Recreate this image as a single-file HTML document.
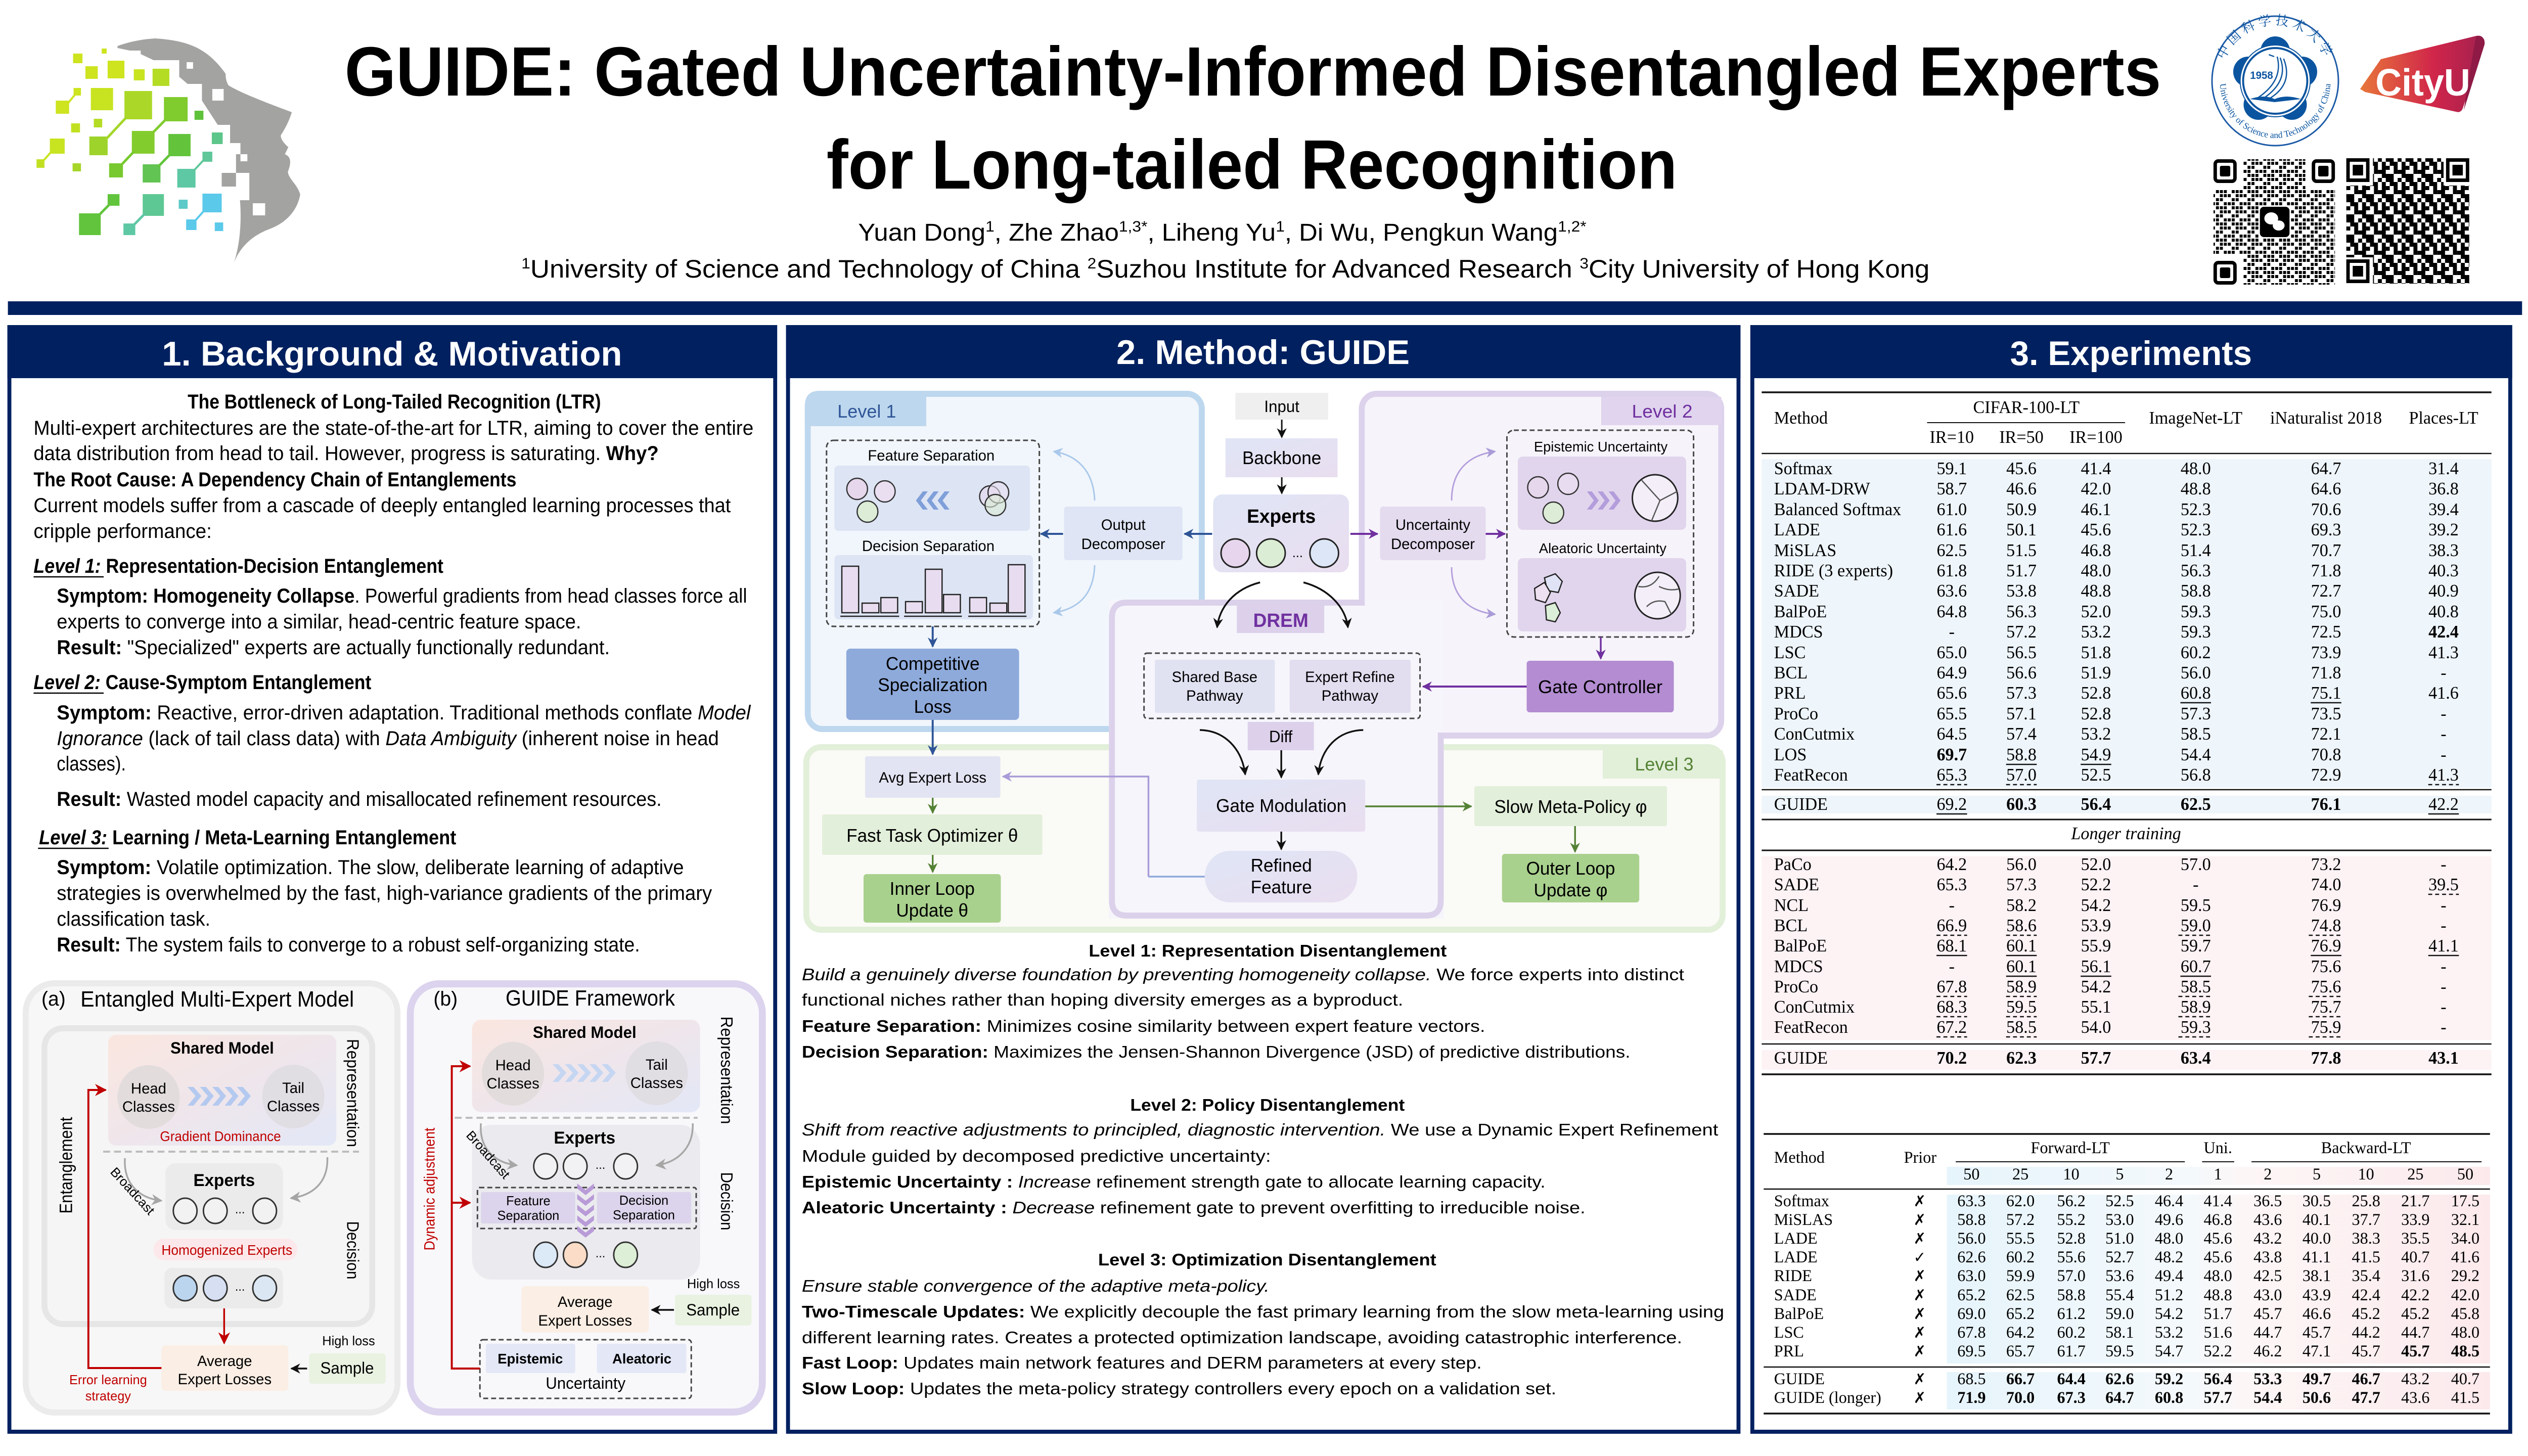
<!DOCTYPE html>
<html><head><meta charset="utf-8">
<style>
html,body{margin:0;padding:0;width:100%;height:100%;overflow:hidden;background:#fff;}
svg{display:block;width:100vw;height:100vh;}
text{font-family:"Liberation Sans","Noto Sans CJK SC",sans-serif;fill:#000;}
.sf{font-family:"Liberation Serif",serif;}
.mk{font-family:"DejaVu Sans",sans-serif;}
</style></head><body>
<svg xmlns="http://www.w3.org/2000/svg" viewBox="0 0 5120 2880" preserveAspectRatio="none">
<defs>
<marker id="aK" viewBox="0 0 10 10" refX="9" refY="5" markerWidth="20" markerHeight="20" markerUnits="userSpaceOnUse" orient="auto"><path d="M0,0 L10,5 L0,10 L3,5 z" fill="#111"/></marker>
<marker id="aR" viewBox="0 0 10 10" refX="9" refY="5" markerWidth="24" markerHeight="24" markerUnits="userSpaceOnUse" orient="auto"><path d="M0,0 L10,5 L0,10 L3,5 z" fill="#c00000"/></marker>
<marker id="aG" viewBox="0 0 10 10" refX="9" refY="5" markerWidth="22" markerHeight="22" markerUnits="userSpaceOnUse" orient="auto"><path d="M0,0 L10,5 L0,10 L3,5 z" fill="#a6a6a6"/></marker>
<marker id="aB" viewBox="0 0 10 10" refX="9" refY="5" markerWidth="20" markerHeight="20" markerUnits="userSpaceOnUse" orient="auto"><path d="M0,0 L10,5 L0,10 L3,5 z" fill="#2f5597"/></marker>
<marker id="aP" viewBox="0 0 10 10" refX="9" refY="5" markerWidth="20" markerHeight="20" markerUnits="userSpaceOnUse" orient="auto"><path d="M0,0 L10,5 L0,10 L3,5 z" fill="#7030a0"/></marker>
<marker id="aLP" viewBox="0 0 10 10" refX="9" refY="5" markerWidth="20" markerHeight="20" markerUnits="userSpaceOnUse" orient="auto"><path d="M0,0 L10,5 L0,10 L3,5 z" fill="#a99bd8"/></marker>
<marker id="aLB" viewBox="0 0 10 10" refX="9" refY="5" markerWidth="20" markerHeight="20" markerUnits="userSpaceOnUse" orient="auto"><path d="M0,0 L10,5 L0,10 L3,5 z" fill="#a9c8ea"/></marker>
<marker id="aGr" viewBox="0 0 10 10" refX="9" refY="5" markerWidth="20" markerHeight="20" markerUnits="userSpaceOnUse" orient="auto"><path d="M0,0 L10,5 L0,10 L3,5 z" fill="#548235"/></marker>
<linearGradient id="gSM" x1="0" y1="0" x2="1" y2="1"><stop offset="0" stop-color="#fbe6df"/><stop offset="1" stop-color="#e3e7f7"/></linearGradient>
<linearGradient id="gEx" x1="0" y1="0" x2="1" y2="1"><stop offset="0" stop-color="#dfe5f5"/><stop offset="1" stop-color="#e9def0"/></linearGradient>
<linearGradient id="gCity" x1="0" y1="0" x2="1" y2="0"><stop offset="0" stop-color="#e8763a"/><stop offset="0.6" stop-color="#d0254a"/><stop offset="1" stop-color="#a3214f"/></linearGradient>
<linearGradient id="gT2" gradientUnits="userSpaceOnUse" x1="3943" y1="0" x2="5043" y2="0"><stop offset="0" stop-color="#e6f4fb"/><stop offset="0.45" stop-color="#f4f9fc"/><stop offset="0.55" stop-color="#fdf6f6"/><stop offset="1" stop-color="#fce9ec"/></linearGradient>
<pattern id="qrp1" width="32" height="32" patternUnits="userSpaceOnUse">
<rect x="0" y="0" width="6" height="6" fill="#000"/><rect x="16" y="0" width="6" height="6" fill="#000"/><rect x="24" y="0" width="6" height="6" fill="#000"/>
<rect x="8" y="8" width="6" height="6" fill="#000"/><rect x="16" y="8" width="6" height="6" fill="#000"/>
<rect x="0" y="16" width="6" height="6" fill="#000"/><rect x="24" y="16" width="6" height="6" fill="#000"/><rect x="8" y="16" width="6" height="6" fill="#000"/>
<rect x="8" y="24" width="6" height="6" fill="#000"/><rect x="16" y="24" width="6" height="6" fill="#000"/><rect x="24" y="24" width="6" height="6" fill="#000"/>
</pattern>
<pattern id="qrp2" width="40" height="40" patternUnits="userSpaceOnUse">
<rect x="0" y="0" width="16" height="8" fill="#000"/><rect x="24" y="0" width="8" height="16" fill="#000"/>
<rect x="8" y="8" width="8" height="16" fill="#000"/><rect x="32" y="8" width="8" height="8" fill="#000"/>
<rect x="16" y="16" width="16" height="8" fill="#000"/><rect x="0" y="24" width="8" height="16" fill="#000"/>
<rect x="24" y="24" width="16" height="8" fill="#000"/><rect x="16" y="32" width="8" height="8" fill="#000"/><rect x="32" y="32" width="8" height="8" fill="#000"/>
</pattern>
</defs>

<!-- ================= HEADER ================= -->
<path d="M238 95 L263 100 L285 100 L285 107 L311 119 L363 119 L363 152 L380 166 L409 166 L409 199 L441 247 L466 247 L466 283 L487 283 L487 305 L478 305 L478 342 L505 342 L505 396 L486 396 C490 440 485 490 473 521 C490 480 520 462 551 451 C585 437 603 412 608 385 C603 365 585 355 583 340 C590 322 590 310 577 305 L584 291 C575 284 567 273 569 267 C579 252 586 238 591 222 C545 205 490 185 463 169 C457 160 457 150 457 146 C420 95 380 80 314 76 C280 78 255 85 238 91 Z" fill="#a3a3a1"/>
<rect x="449" y="342" width="29" height="27" fill="#a3a3a1"/>
<rect x="378" y="123" width="13" height="13" fill="#fff"/><rect x="430" y="176" width="23" height="23" fill="#fff"/><rect x="487" y="305" width="14" height="14" fill="#fff"/><rect x="512" y="402" width="25" height="24" fill="#fff"/>
<g>
<rect x="148" y="106" width="19" height="19" fill="#cde41f"/><rect x="206" y="96" width="10" height="10" fill="#cde41f"/>
<rect x="173" y="131" width="25" height="25" fill="#cde41f"/><rect x="218" y="120" width="34" height="35" fill="#cde41f"/>
<rect x="271" y="137" width="22" height="22" fill="#c8e320"/><rect x="309" y="136" width="34" height="34" fill="#b5dc25"/>
<rect x="149" y="174" width="15" height="15" fill="#cde41f"/><rect x="113" y="199" width="27" height="26" fill="#cde41f"/><path d="M152 187 L137 205" stroke="#cde41f" stroke-width="4"/>
<rect x="184" y="174" width="45" height="44" fill="#c8e320"/>
<rect x="252" y="180" width="56" height="56" fill="#abd828"/><rect x="181" y="270" width="37" height="37" fill="#9dd32a"/><path d="M256 232 L214 276" stroke="#a4d628" stroke-width="5"/>
<rect x="332" y="192" width="48" height="48" fill="#80cb2e"/><rect x="267" y="259" width="46" height="45" fill="#83cc2e"/><path d="M336 236 L308 264" stroke="#80cb2e" stroke-width="5"/>
<rect x="394" y="219" width="18" height="18" fill="#5ec23a"/>
<rect x="144" y="244" width="18" height="18" fill="#c2e022"/><rect x="190" y="235" width="17" height="17" fill="#b5dc25"/>
<rect x="101" y="274" width="30" height="30" fill="#c8e320"/><rect x="74" y="315" width="16" height="17" fill="#c2e022"/><path d="M104 300 L86 320" stroke="#c8e320" stroke-width="4"/>
<rect x="147" y="323" width="17" height="16" fill="#a5d628"/>
<rect x="221" y="323" width="28" height="28" fill="#78c92f"/><path d="M271 300 L244 328" stroke="#78c92f" stroke-width="5"/>
<rect x="341" y="265" width="45" height="44" fill="#63c43c"/><rect x="289" y="325" width="36" height="36" fill="#62c453"/><path d="M345 305 L320 330" stroke="#63c43c" stroke-width="5"/>
<rect x="429" y="262" width="22" height="23" fill="#5dc68a"/>
<rect x="410" y="300" width="20" height="20" fill="#5fc79a"/><rect x="359" y="334" width="37" height="37" fill="#5ec8a5"/><path d="M413 316 L392 338" stroke="#5fc79a" stroke-width="4"/>
<rect x="218" y="384" width="24" height="23" fill="#62c43c"/><rect x="160" y="422" width="44" height="43" fill="#62c43c"/><path d="M222 404 L200 426" stroke="#62c43c" stroke-width="5"/>
<rect x="289" y="384" width="43" height="43" fill="#5ec894"/><rect x="250" y="442" width="24" height="23" fill="#5ec8a5"/><path d="M293 423 L270 446" stroke="#5ec8a5" stroke-width="5"/>
<rect x="362" y="395" width="18" height="18" fill="#5ccac8"/>
<rect x="410" y="383" width="39" height="37" fill="#5bc9ea"/><rect x="377" y="434" width="21" height="21" fill="#5bc9ea"/><path d="M414 416 L394 438" stroke="#5bc9ea" stroke-width="4"/>
<rect x="435" y="440" width="17" height="17" fill="#5bc9ea"/>
</g>

<text x="698" y="189" font-size="138" font-weight="bold" textLength="3679" lengthAdjust="spacingAndGlyphs">GUIDE: Gated Uncertainty-Informed Disentangled Experts</text>
<text x="1674" y="373" font-size="138" font-weight="bold" textLength="1723" lengthAdjust="spacingAndGlyphs">for Long-tailed Recognition</text>
<text x="1738" y="476" font-size="48" textLength="1475" lengthAdjust="spacingAndGlyphs">Yuan Dong<tspan font-size="30" dy="-18">1</tspan><tspan dy="18">, Zhe Zhao</tspan><tspan font-size="30" dy="-18">1,3*</tspan><tspan dy="18">, Liheng Yu</tspan><tspan font-size="30" dy="-18">1</tspan><tspan dy="18">, Di Wu, Pengkun Wang</tspan><tspan font-size="30" dy="-18">1,2*</tspan></text>
<text x="1056" y="549" font-size="50" textLength="2852" lengthAdjust="spacingAndGlyphs"><tspan font-size="30" dy="-18">1</tspan><tspan dy="18">University of Science and Technology of China  </tspan><tspan font-size="30" dy="-18">2</tspan><tspan dy="18">Suzhou Institute for Advanced Research  </tspan><tspan font-size="30" dy="-18">3</tspan><tspan dy="18">City University of Hong Kong</tspan></text>

<!-- USTC logo -->
<circle cx="4608" cy="160" r="128" fill="#fff" stroke="#1b5aa6" stroke-width="3"/>
<g fill="#0b55a0">
<circle cx="4608" cy="160" r="72"/>
<circle cx="4608" cy="102" r="30"/><circle cx="4663" cy="142" r="30"/><circle cx="4642" cy="207" r="30"/><circle cx="4574" cy="207" r="30"/><circle cx="4553" cy="142" r="30"/>
</g>
<circle cx="4608" cy="160" r="70" fill="#fff"/>
<circle cx="4608" cy="160" r="65" fill="none" stroke="#0b55a0" stroke-width="4"/>
<text x="4557" y="156" font-size="21" font-weight="bold" style="fill:#0b55a0">1958</text>
<path d="M4557 196 Q4585 186 4607 196 Q4630 186 4660 196 L4607 202 Z" fill="#0b55a0"/>
<path d="M4572 194 Q4625 160 4612 112 M4585 194 Q4636 160 4618 114 M4598 194 Q4645 165 4625 116 M4606 112 L4595 108" fill="none" stroke="#0b55a0" stroke-width="2.5"/>
<path id="ustcTop" d="M4500 180 A110 110 0 1 1 4716 180" fill="none"/>
<text font-size="26" style="fill:#0b55a0;font-family:'Noto Serif CJK SC','Noto Sans CJK SC',serif"><textPath href="#ustcTop" startOffset="50%" text-anchor="middle" letter-spacing="7">中国科学技术大学</textPath></text>
<path id="ustcBot" d="M4498 140 A112 112 0 1 0 4718 140" fill="none"/>
<text font-size="18" class="sf" style="fill:#0b55a0"><textPath href="#ustcBot" startOffset="50%" text-anchor="middle">University of Science and Technology of China</textPath></text>

<!-- CityU logo -->
<path d="M4780 176 L4822 117 L5015 71 Q5032 68 5030 86 L4988 214 Q4984 224 4974 221 L4790 182 Z" fill="url(#gCity)"/>
<path d="M5015 71 Q5034 70 5032 88 L4990 218 Q5000 150 5015 71 Z" fill="#8e1a45"/>
<text x="4811" y="189" font-size="75" font-weight="bold" textLength="192" lengthAdjust="spacingAndGlyphs" style="fill:#fff">CityU</text>

<!-- QR codes -->
<rect x="4483" y="315" width="246" height="248" fill="url(#qrp1)"/>
<rect x="4481" y="313" width="62" height="62" fill="#fff"/><rect x="4669" y="313" width="62" height="62" fill="#fff"/><rect x="4481" y="503" width="62" height="62" fill="#fff"/>
<g fill="none" stroke="#000" stroke-width="7"><rect x="4486.5" y="318.5" width="40" height="40" rx="6"/><rect x="4685.5" y="318.5" width="40" height="40" rx="6"/><rect x="4486.5" y="519.5" width="40" height="40" rx="6"/></g>
<rect x="4496" y="328" width="21" height="21" rx="3"/><rect x="4695" y="328" width="21" height="21" rx="3"/><rect x="4496" y="529" width="21" height="21" rx="3"/>
<rect x="4574" y="406" width="66" height="66" fill="#fff"/>
<rect x="4577" y="409" width="60" height="60" rx="8" fill="#000"/>
<ellipse cx="4600" cy="432" rx="14" ry="12" fill="#fff"/><ellipse cx="4615" cy="446" rx="12" ry="10" fill="#fff"/>
<rect x="4752" y="313" width="249" height="248" fill="url(#qrp2)"/>
<rect x="4750" y="311" width="56" height="56" fill="#fff"/><rect x="4949" y="311" width="56" height="56" fill="#fff"/><rect x="4750" y="509" width="56" height="56" fill="#fff"/>
<g fill="none" stroke="#000" stroke-width="7"><rect x="4755.5" y="316.5" width="40" height="40"/><rect x="4957.5" y="316.5" width="40" height="40"/><rect x="4755.5" y="516.5" width="40" height="40"/></g>
<rect x="4765" y="326" width="21" height="21"/><rect x="4967" y="326" width="21" height="21"/><rect x="4765" y="526" width="21" height="21"/>

<rect x="16" y="596" width="5092" height="27" fill="#002060"/>

<!-- ================= PANELS ================= -->
<rect x="19" y="647" width="1551" height="2185" fill="#fff" stroke="#002060" stroke-width="8"/>
<rect x="15" y="643" width="1559" height="105" fill="#002060"/>
<rect x="1596" y="647" width="1925" height="2185" fill="#fff" stroke="#002060" stroke-width="8"/>
<rect x="1592" y="643" width="1933" height="105" fill="#002060"/>
<rect x="3549" y="647" width="1535" height="2185" fill="#fff" stroke="#002060" stroke-width="8"/>
<rect x="3545" y="643" width="1543" height="105" fill="#002060"/>
<text x="328" y="723" font-size="68" font-weight="bold" textLength="932" lengthAdjust="spacingAndGlyphs" style="fill:#fff">1. Background &amp; Motivation</text>
<text x="2261" y="720" font-size="68" font-weight="bold" textLength="594" lengthAdjust="spacingAndGlyphs" style="fill:#fff">2. Method: GUIDE</text>
<text x="4071" y="722" font-size="68" font-weight="bold" textLength="490" lengthAdjust="spacingAndGlyphs" style="fill:#fff">3. Experiments</text>

<!-- ================= LEFT TEXT ================= -->
<g font-size="40">
<text x="380" y="808" font-weight="bold" textLength="837" lengthAdjust="spacingAndGlyphs">The Bottleneck of Long-Tailed Recognition (LTR)</text>
<text x="68" y="860" textLength="1458" lengthAdjust="spacingAndGlyphs">Multi-expert architectures are the state-of-the-art for LTR, aiming to cover the entire</text>
<text x="68" y="910" textLength="1266" lengthAdjust="spacingAndGlyphs">data distribution from head to tail. However, progress is saturating. <tspan font-weight="bold">Why?</tspan></text>
<text x="68" y="962" font-weight="bold" textLength="978" lengthAdjust="spacingAndGlyphs">The Root Cause: A Dependency Chain of Entanglements</text>
<text x="68" y="1013" textLength="1412" lengthAdjust="spacingAndGlyphs">Current models suffer from a cascade of deeply entangled learning processes that</text>
<text x="68" y="1064" textLength="361" lengthAdjust="spacingAndGlyphs">cripple performance:</text>
<text x="68" y="1133" font-weight="bold" textLength="830" lengthAdjust="spacingAndGlyphs"><tspan font-style="italic">Level 1:</tspan> Representation-Decision Entanglement</text>
<line x1="68" y1="1141" x2="210" y2="1141" stroke="#000" stroke-width="2.5"/>
<text x="115" y="1192" textLength="1398" lengthAdjust="spacingAndGlyphs"><tspan font-weight="bold">Symptom: Homogeneity Collapse</tspan>. Powerful gradients from head classes force all</text>
<text x="115" y="1243" textLength="1062" lengthAdjust="spacingAndGlyphs">experts to converge into a similar, head-centric feature space.</text>
<text x="115" y="1294" textLength="1120" lengthAdjust="spacingAndGlyphs"><tspan font-weight="bold">Result:</tspan> "Specialized" experts are actually functionally redundant.</text>
<text x="68" y="1363" font-weight="bold" textLength="684" lengthAdjust="spacingAndGlyphs"><tspan font-style="italic">Level 2:</tspan> Cause-Symptom Entanglement</text>
<line x1="68" y1="1371" x2="210" y2="1371" stroke="#000" stroke-width="2.5"/>
<text x="115" y="1423" textLength="1405" lengthAdjust="spacingAndGlyphs"><tspan font-weight="bold">Symptom:</tspan> Reactive, error-driven adaptation. Traditional methods conflate <tspan font-style="italic">Model</tspan></text>
<text x="115" y="1474" textLength="1341" lengthAdjust="spacingAndGlyphs"><tspan font-style="italic">Ignorance</tspan> (lack of tail class data) with <tspan font-style="italic">Data Ambiguity</tspan> (inherent noise in head</text>
<text x="115" y="1524" textLength="140" lengthAdjust="spacingAndGlyphs">classes).</text>
<text x="115" y="1594" textLength="1225" lengthAdjust="spacingAndGlyphs"><tspan font-weight="bold">Result:</tspan> Wasted model capacity and misallocated refinement resources.</text>
<text x="79" y="1670" font-weight="bold" textLength="845" lengthAdjust="spacingAndGlyphs"><tspan font-style="italic">Level 3:</tspan> Learning / Meta-Learning Entanglement</text>
<line x1="77" y1="1678" x2="220" y2="1678" stroke="#000" stroke-width="2.5"/>
<text x="115" y="1729" textLength="1270" lengthAdjust="spacingAndGlyphs"><tspan font-weight="bold">Symptom:</tspan> Volatile optimization. The slow, deliberate learning of adaptive</text>
<text x="115" y="1780" textLength="1327" lengthAdjust="spacingAndGlyphs">strategies is overwhelmed by the fast, high-variance gradients of the primary</text>
<text x="115" y="1831" textLength="311" lengthAdjust="spacingAndGlyphs">classification task.</text>
<text x="115" y="1882" textLength="1181" lengthAdjust="spacingAndGlyphs"><tspan font-weight="bold">Result:</tspan> The system fails to converge to a robust self-organizing state.</text>
</g>

<!-- ================= LEFT DIAGRAMS ================= -->
<rect x="52" y="1945" width="753" height="849" rx="58" fill="#f7f7f7" stroke="#ebebeb" stroke-width="12"/>
<rect x="831" y="1946" width="713" height="847" rx="58" fill="#f8f8fb" stroke="#dcd3ee" stroke-width="14"/>
<text x="84" y="1989" font-size="40">(a)</text>
<text x="163" y="1991" font-size="44" textLength="554" lengthAdjust="spacingAndGlyphs">Entangled Multi-Expert Model</text>
<text x="878" y="1989" font-size="40">(b)</text>
<text x="1024" y="1989" font-size="44" textLength="343" lengthAdjust="spacingAndGlyphs">GUIDE Framework</text>

<!-- (a) -->
<rect x="90" y="2034" width="664" height="585" rx="38" fill="#f5f5f5" stroke="#e6e6e6" stroke-width="12"/>
<rect x="219" y="2047" width="462" height="219" rx="16" fill="url(#gSM)"/>
<text x="450" y="2084" font-size="32" font-weight="bold" text-anchor="middle">Shared Model</text>
<circle cx="301" cy="2170" r="63" fill="#e2dcdc"/>
<circle cx="594" cy="2169" r="63" fill="#e0dde3"/>
<g font-size="30" text-anchor="middle"><text x="301" y="2163">Head</text><text x="301" y="2199">Classes</text><text x="594" y="2162">Tail</text><text x="594" y="2198">Classes</text></g>
<g fill="#b4c9ef">
<polygon points="380,2150 392,2150 408,2168 392,2187 380,2187 396,2168"/><polygon points="405,2150 417,2150 433,2168 417,2187 405,2187 421,2168"/><polygon points="430,2150 442,2150 458,2168 442,2187 430,2187 446,2168"/><polygon points="455,2150 467,2150 483,2168 467,2187 455,2187 471,2168"/><polygon points="480,2150 492,2150 508,2168 492,2187 480,2187 496,2168"/>
</g>
<text x="324" y="2257" font-size="28" textLength="245" lengthAdjust="spacingAndGlyphs" style="fill:#c00000">Gradient Dominance</text>
<line x1="209" y1="2278" x2="727" y2="2278" stroke="#bdbdbd" stroke-width="4" stroke-dasharray="14 8"/>
<text transform="translate(703,2162) rotate(90)" font-size="34" text-anchor="middle" textLength="214" lengthAdjust="spacingAndGlyphs">Representation</text>
<text transform="translate(703,2473) rotate(90)" font-size="34" text-anchor="middle" textLength="115" lengthAdjust="spacingAndGlyphs">Decision</text>
<text transform="translate(146,2305) rotate(-90)" font-size="36" text-anchor="middle" textLength="191" lengthAdjust="spacingAndGlyphs">Entanglement</text>
<path d="M253 2291 C250 2340 280 2370 327 2375" fill="none" stroke="#a6a6a6" stroke-width="3.5" marker-end="url(#aG)"/>
<path d="M663 2289 C665 2340 632 2365 589 2370" fill="none" stroke="#a6a6a6" stroke-width="3.5" marker-end="url(#aG)"/>
<text transform="translate(262,2362) rotate(47)" font-size="26" text-anchor="middle">Broadcast</text>
<rect x="335" y="2301" width="238" height="132" rx="20" fill="#ebebeb"/>
<text x="454" y="2346" font-size="34" font-weight="bold" text-anchor="middle">Experts</text>
<g fill="#f2f2f2" stroke="#333" stroke-width="3"><ellipse cx="375" cy="2395" rx="24" ry="25"/><ellipse cx="436" cy="2395" rx="24" ry="25"/><ellipse cx="536" cy="2395" rx="24" ry="25"/></g>
<text x="486" y="2400" font-size="24" text-anchor="middle">...</text>
<rect x="311" y="2450" width="291" height="43" rx="21" fill="#fce8ea"/>
<text x="327" y="2482" font-size="28" textLength="265" lengthAdjust="spacingAndGlyphs" style="fill:#c00000">Homogenized Experts</text>
<rect x="333" y="2508" width="240" height="80" rx="15" fill="#ebebeb"/>
<g stroke="#333" stroke-width="3"><ellipse cx="375" cy="2548" rx="24" ry="25" fill="#bcd5ee"/><ellipse cx="436" cy="2548" rx="24" ry="25" fill="#d6e0f2"/><ellipse cx="536" cy="2548" rx="24" ry="25" fill="#dce7f4"/></g>
<text x="486" y="2553" font-size="24" text-anchor="middle">...</text>
<line x1="454" y1="2588" x2="454" y2="2657" stroke="#c00000" stroke-width="3.5" marker-end="url(#aR)"/>
<rect x="327" y="2661" width="257" height="90" rx="8" fill="#fbeee4"/>
<text x="455" y="2702" font-size="30" text-anchor="middle">Average</text>
<text x="455" y="2738" font-size="30" text-anchor="middle">Expert Losses</text>
<rect x="626" y="2677" width="155" height="60" rx="6" fill="#e9f2e1"/>
<text x="703" y="2717" font-size="32" text-anchor="middle">Sample</text>
<text x="706" y="2661" font-size="26" text-anchor="middle">High loss</text>
<line x1="622" y1="2707" x2="590" y2="2707" stroke="#111" stroke-width="3.5" marker-end="url(#aK)"/>
<path d="M327 2706 H179 V2156 H214" fill="none" stroke="#c00000" stroke-width="4" marker-end="url(#aR)"/>
<text x="219" y="2738" font-size="26" text-anchor="middle" style="fill:#c00000">Error learning</text>
<text x="219" y="2770" font-size="26" text-anchor="middle" style="fill:#c00000">strategy</text>

<!-- (b) -->
<rect x="956" y="2017" width="462" height="183" rx="18" fill="url(#gSM)"/>
<text x="1184" y="2053" font-size="32" font-weight="bold" text-anchor="middle">Shared Model</text>
<circle cx="1039" cy="2124" r="63" fill="#e2dcdc"/>
<circle cx="1330" cy="2123" r="63" fill="#e0dde3"/>
<g font-size="30" text-anchor="middle"><text x="1039" y="2117">Head</text><text x="1039" y="2153">Classes</text><text x="1330" y="2116">Tail</text><text x="1330" y="2152">Classes</text></g>
<g fill="#c5d6f2">
<polygon points="1119,2105 1131,2105 1147,2122 1131,2140 1119,2140 1135,2122"/><polygon points="1144,2105 1156,2105 1172,2122 1156,2140 1144,2140 1160,2122"/><polygon points="1169,2105 1181,2105 1197,2122 1181,2140 1169,2140 1185,2122"/><polygon points="1194,2105 1206,2105 1222,2122 1206,2140 1194,2140 1210,2122"/><polygon points="1219,2105 1231,2105 1247,2122 1231,2140 1219,2140 1235,2122"/>
</g>
<line x1="921" y1="2211" x2="1413" y2="2211" stroke="#bdbdbd" stroke-width="4" stroke-dasharray="14 8"/>
<rect x="956" y="2225" width="462" height="306" rx="40" fill="#ebebef"/>
<text x="1184" y="2262" font-size="34" font-weight="bold" text-anchor="middle">Experts</text>
<g fill="#f2f2f4" stroke="#333" stroke-width="3"><ellipse cx="1105" cy="2307" rx="24" ry="25"/><ellipse cx="1165" cy="2307" rx="24" ry="25"/><ellipse cx="1267" cy="2307" rx="24" ry="25"/></g>
<text x="1216" y="2312" font-size="24" text-anchor="middle">...</text>
<path d="M974 2222 C970 2270 1000 2300 1047 2305" fill="none" stroke="#a6a6a6" stroke-width="3.5" marker-end="url(#aG)"/>
<path d="M1403 2222 C1405 2270 1372 2300 1329 2305" fill="none" stroke="#a6a6a6" stroke-width="3.5" marker-end="url(#aG)"/>
<text transform="translate(982,2290) rotate(48)" font-size="26" text-anchor="middle">Broadcast</text>
<rect x="967" y="2349" width="443" height="81" rx="4" fill="none" stroke="#444" stroke-width="3" stroke-dasharray="10 6"/>
<rect x="974" y="2358" width="191" height="62" rx="4" fill="#dcd4ec"/>
<rect x="1209" y="2358" width="191" height="62" rx="4" fill="#dcd4ec"/>
<g font-size="26" text-anchor="middle"><text x="1070" y="2384">Feature</text><text x="1070" y="2413">Separation</text><text x="1304" y="2383">Decision</text><text x="1304" y="2412">Separation</text></g>
<g fill="#b99bd8">
<polygon points="1169,2341 1186,2354 1203,2341 1203,2351 1186,2364 1169,2351"/><polygon points="1169,2362 1186,2375 1203,2362 1203,2372 1186,2385 1169,2372"/><polygon points="1169,2383 1186,2396 1203,2383 1203,2393 1186,2406 1169,2393"/><polygon points="1169,2404 1186,2417 1203,2404 1203,2414 1186,2427 1169,2414"/><polygon points="1169,2425 1186,2438 1203,2425 1203,2435 1186,2448 1169,2435"/>
</g>
<g stroke="#333" stroke-width="3"><ellipse cx="1105" cy="2482" rx="24" ry="25" fill="#dce9f7"/><ellipse cx="1165" cy="2482" rx="24" ry="25" fill="#fbdcc6"/><ellipse cx="1267" cy="2482" rx="24" ry="25" fill="#ddefd6"/></g>
<text x="1216" y="2487" font-size="24" text-anchor="middle">...</text>
<text transform="translate(1460,2117) rotate(90)" font-size="34" text-anchor="middle" textLength="213" lengthAdjust="spacingAndGlyphs">Representation</text>
<text transform="translate(1460,2376) rotate(90)" font-size="34" text-anchor="middle" textLength="115" lengthAdjust="spacingAndGlyphs">Decision</text>
<text transform="translate(880,2352) rotate(-90)" font-size="30" text-anchor="middle" textLength="243" lengthAdjust="spacingAndGlyphs" style="fill:#c00000">Dynamic adjustment</text>
<rect x="1056" y="2544" width="258" height="92" rx="8" fill="#fbeee4"/>
<text x="1185" y="2585" font-size="30" text-anchor="middle">Average</text>
<text x="1185" y="2622" font-size="30" text-anchor="middle">Expert Losses</text>
<text x="1445" y="2548" font-size="26" text-anchor="middle">High loss</text>
<rect x="1367" y="2561" width="155" height="61" rx="6" fill="#e9f2e1"/>
<text x="1444" y="2602" font-size="32" text-anchor="middle">Sample</text>
<line x1="1365" y1="2591" x2="1320" y2="2591" stroke="#111" stroke-width="3.5" marker-end="url(#aK)"/>
<rect x="972" y="2650" width="428" height="116" rx="6" fill="none" stroke="#444" stroke-width="3" stroke-dasharray="10 6"/>
<rect x="984" y="2658" width="181" height="58" rx="4" fill="#e3e7f6"/>
<rect x="1209" y="2658" width="181" height="58" rx="4" fill="#e3e7f6"/>
<text x="1074" y="2697" font-size="28" font-weight="bold" text-anchor="middle">Epistemic</text>
<text x="1300" y="2697" font-size="28" font-weight="bold" text-anchor="middle">Aleatoric</text>
<text x="1186" y="2747" font-size="32" text-anchor="middle">Uncertainty</text>
<path d="M972 2707 H915 V2109 H952" fill="none" stroke="#c00000" stroke-width="4" marker-end="url(#aR)"/>
<path d="M915 2379 H952" fill="none" stroke="#c00000" stroke-width="4" marker-end="url(#aR)"/>

<!-- ================= MIDDLE DIAGRAM ================= -->
<rect x="1636" y="779" width="798" height="663" rx="30" fill="#f1f6fc" stroke="#bdd7ee" stroke-width="12"/>
<rect x="1633" y="1478" width="1856" height="361" rx="30" fill="#fafaf6" stroke="#e2efd9" stroke-width="12"/>
<rect x="2758" y="779" width="728" height="676" rx="30" fill="#f6f3fa" stroke="#ddd2ec" stroke-width="12"/>
<rect x="2246" y="1186" width="678" height="631" fill="#f6f5fb"/>
<path d="M2764 1192 H2282 Q2252 1192 2252 1222 V1781 Q2252 1811 2282 1811 H2888 Q2918 1811 2918 1781 V1449" fill="none" stroke="#dcd1eb" stroke-width="12"/>
<path d="M1630 843 V803 Q1630 773 1660 773 H1876 V843 Z" fill="#bdd7ee"/>
<rect x="3243" y="785" width="243" height="56" fill="#e0d4ee"/>
<rect x="3246" y="1484" width="243" height="56" fill="#e2efd9"/>
<text x="1696" y="826" font-size="36" textLength="119" lengthAdjust="spacingAndGlyphs" style="fill:#2f5597">Level 1</text>
<text x="3305" y="826" font-size="36" textLength="123" lengthAdjust="spacingAndGlyphs" style="fill:#7030a0">Level 2</text>
<text x="3311" y="1524" font-size="36" textLength="119" lengthAdjust="spacingAndGlyphs" style="fill:#548235">Level 3</text>

<rect x="2502" y="777" width="188" height="53" fill="#efefef"/>
<text x="2596" y="815" font-size="32" text-anchor="middle">Input</text>
<line x1="2596" y1="830" x2="2596" y2="865" stroke="#111" stroke-width="3" marker-end="url(#aK)"/>
<rect x="2482" y="867" width="227" height="77" fill="url(#gEx)"/>
<text x="2596" y="918" font-size="36" text-anchor="middle">Backbone</text>
<line x1="2596" y1="944" x2="2596" y2="976" stroke="#111" stroke-width="3" marker-end="url(#aK)"/>
<rect x="2457" y="978" width="275" height="154" rx="18" fill="url(#gEx)"/>
<text x="2595" y="1034" font-size="38" font-weight="bold" text-anchor="middle">Experts</text>
<g stroke="#222" stroke-width="3"><ellipse cx="2502" cy="1094" rx="29" ry="28" fill="#e6d5ec"/><ellipse cx="2574" cy="1094" rx="29" ry="28" fill="#dbedd4"/><ellipse cx="2682" cy="1094" rx="29" ry="28" fill="#dce6f6"/></g>
<text x="2628" y="1102" font-size="26" text-anchor="middle">...</text>

<rect x="2155" y="1002" width="240" height="106" rx="6" fill="#dfe5f4"/>
<text x="2275" y="1048" font-size="30" text-anchor="middle">Output</text>
<text x="2275" y="1086" font-size="30" text-anchor="middle">Decomposer</text>
<line x1="2455" y1="1056" x2="2399" y2="1056" stroke="#2f5597" stroke-width="4" marker-end="url(#aB)"/>
<line x1="2153" y1="1056" x2="2108" y2="1056" stroke="#2f5597" stroke-width="4" marker-end="url(#aB)"/>
<path d="M2217 990 C2215 930 2180 900 2134 893" fill="none" stroke="#a9c8ea" stroke-width="3" marker-end="url(#aLB)"/>
<path d="M2217 1118 C2215 1180 2180 1205 2134 1212" fill="none" stroke="#a9c8ea" stroke-width="3" marker-end="url(#aLB)"/>
<rect x="1674" y="871" width="431" height="368" rx="14" fill="none" stroke="#444" stroke-width="3" stroke-dasharray="10 6"/>
<text x="1886" y="911" font-size="30" text-anchor="middle">Feature Separation</text>
<rect x="1690" y="921" width="396" height="129" rx="8" fill="#dde4f4"/>
<g stroke="#333" stroke-width="2.5"><circle cx="1736" cy="967" r="21" fill="#e6d7ec"/><circle cx="1792" cy="972" r="21" fill="#eadff0"/><circle cx="1757" cy="1012" r="21" fill="#dcecd6"/>
<circle cx="2005" cy="982" r="21" fill="#e6d7ec" fill-opacity="0.6"/><circle cx="2022" cy="974" r="21" fill="#eadff0" fill-opacity="0.6"/><circle cx="2016" cy="999" r="21" fill="#dcecd6" fill-opacity="0.6"/></g>
<g fill="#7f9fd9">
<polygon points="1879,972 1869,972 1855,990 1869,1008 1879,1008 1865,990"/><polygon points="1901,972 1891,972 1877,990 1891,1008 1901,1008 1887,990"/><polygon points="1923,972 1913,972 1899,990 1913,1008 1923,1008 1909,990"/>
</g>
<text x="1880" y="1090" font-size="30" text-anchor="middle">Decision Separation</text>
<rect x="1690" y="1098" width="402" height="127" rx="8" fill="#dde4f4"/>
<g fill="#e8ddf0" stroke="#222" stroke-width="2.5">
<rect x="1705" y="1120" width="34" height="92"/><rect x="1746" y="1193" width="34" height="19"/><rect x="1784" y="1182" width="34" height="30"/>
<rect x="1834" y="1190" width="34" height="22"/><rect x="1874" y="1126" width="34" height="86"/><rect x="1911" y="1176" width="34" height="36"/>
<rect x="1964" y="1182" width="34" height="30"/><rect x="2005" y="1193" width="34" height="19"/><rect x="2042" y="1117" width="34" height="95"/>
</g>
<g stroke="#222" stroke-width="2.5"><line x1="1702" y1="1219" x2="1821" y2="1219"/><line x1="1831" y1="1219" x2="1948" y2="1219"/><line x1="1961" y1="1219" x2="2079" y2="1219"/></g>
<line x1="1889" y1="1239" x2="1889" y2="1279" stroke="#2f5597" stroke-width="4" marker-end="url(#aB)"/>
<rect x="1714" y="1283" width="350" height="141" rx="8" fill="#8eaadb"/>
<g font-size="36" text-anchor="middle"><text x="1889" y="1325">Competitive</text><text x="1889" y="1367">Specialization</text><text x="1889" y="1410">Loss</text></g>
<line x1="1889" y1="1424" x2="1889" y2="1492" stroke="#2f5597" stroke-width="4" marker-end="url(#aB)"/>
<rect x="1752" y="1496" width="274" height="82" rx="4" fill="#e2e4f3"/>
<text x="1889" y="1548" font-size="30" text-anchor="middle">Avg Expert Loss</text>
<line x1="1889" y1="1578" x2="1889" y2="1608" stroke="#548235" stroke-width="3.5" marker-end="url(#aGr)"/>
<rect x="1665" y="1611" width="446" height="80" rx="4" fill="#e2efda"/>
<text x="1888" y="1665" font-size="36" text-anchor="middle">Fast Task Optimizer θ</text>
<line x1="1889" y1="1691" x2="1889" y2="1725" stroke="#548235" stroke-width="3.5" marker-end="url(#aGr)"/>
<rect x="1749" y="1729" width="278" height="96" rx="6" fill="#a9d18e"/>
<text x="1888" y="1770" font-size="36" text-anchor="middle">Inner Loop</text>
<text x="1888" y="1813" font-size="36" text-anchor="middle">Update θ</text>
<path d="M2440 1734 H2326" fill="none" stroke="#8eaadb" stroke-width="3.5"/>
<path d="M2326 1734 V1536 H2031" fill="none" stroke="#a99bd8" stroke-width="3.5" marker-end="url(#aLP)"/>

<rect x="2795" y="1002" width="214" height="106" rx="6" fill="#e4dbef"/>
<text x="2902" y="1048" font-size="30" text-anchor="middle">Uncertainty</text>
<text x="2902" y="1086" font-size="30" text-anchor="middle">Decomposer</text>
<line x1="2735" y1="1056" x2="2790" y2="1056" stroke="#7030a0" stroke-width="4" marker-end="url(#aP)"/>
<line x1="3009" y1="1056" x2="3048" y2="1056" stroke="#7030a0" stroke-width="4" marker-end="url(#aP)"/>
<path d="M2940 990 C2940 930 2975 900 3028 893" fill="none" stroke="#b4a0dc" stroke-width="3" marker-end="url(#aLP)"/>
<path d="M2940 1122 C2940 1180 2975 1210 3028 1215" fill="none" stroke="#b4a0dc" stroke-width="3" marker-end="url(#aLP)"/>
<rect x="3052" y="851" width="378" height="409" rx="14" fill="none" stroke="#444" stroke-width="3" stroke-dasharray="10 6"/>
<text x="3242" y="893" font-size="28" text-anchor="middle">Epistemic Uncertainty</text>
<rect x="3074" y="903" width="341" height="145" rx="10" fill="#e1d5ed"/>
<g stroke="#333" stroke-width="2.5"><circle cx="3115" cy="964" r="21" fill="#e6d7ec"/><circle cx="3176" cy="957" r="21" fill="#e8dcf0"/><circle cx="3146" cy="1014" r="21" fill="#dcecd6"/></g>
<g fill="#b39ddb">
<polygon points="3214,972 3224,972 3238,990 3224,1008 3214,1008 3228,990"/><polygon points="3236,972 3246,972 3260,990 3246,1008 3236,1008 3250,990"/><polygon points="3258,972 3268,972 3282,990 3268,1008 3258,1008 3272,990"/>
<polygon points="3214,1168 3224,1168 3238,1186 3224,1204 3214,1204 3228,1186"/><polygon points="3236,1168 3246,1168 3260,1186 3246,1204 3236,1204 3250,1186"/><polygon points="3258,1168 3268,1168 3282,1186 3268,1204 3258,1204 3272,1186"/>
</g>
<circle cx="3352" cy="985" r="46" fill="#f3eef8" stroke="#222" stroke-width="3"/>
<path d="M3362 990 L3325 950 M3362 990 L3397 972 M3362 990 L3345 1030" stroke="#555" stroke-width="2.5" fill="none"/>
<text x="3246" y="1094" font-size="28" text-anchor="middle">Aleatoric Uncertainty</text>
<rect x="3074" y="1104" width="341" height="145" rx="10" fill="#e1d5ed"/>
<g stroke="#222" stroke-width="2.5">
<polygon points="3128,1143 3150,1135 3164,1150 3156,1172 3134,1168" fill="#e0e3f5"/>
<polygon points="3108,1164 3128,1152 3140,1172 3130,1192 3110,1186" fill="#ede0f0"/>
<polygon points="3130,1198 3150,1192 3160,1212 3150,1230 3132,1226" fill="#dcefd8"/>
</g>
<circle cx="3357" cy="1178" r="46" fill="#f3eef8" stroke="#222" stroke-width="3"/>
<path d="M3318 1160 Q3345 1165 3360 1140 M3360 1160 Q3380 1170 3400 1165 M3335 1200 Q3350 1185 3372 1190 L3385 1215" stroke="#555" stroke-width="2.5" fill="none"/>
<line x1="3242" y1="1260" x2="3242" y2="1303" stroke="#7030a0" stroke-width="3.5" marker-end="url(#aP)"/>
<rect x="3092" y="1307" width="298" height="102" rx="6" fill="#b38cd2"/>
<text x="3241" y="1371" font-size="36" text-anchor="middle" textLength="252" lengthAdjust="spacingAndGlyphs">Gate Controller</text>
<line x1="3092" y1="1358" x2="2882" y2="1358" stroke="#7030a0" stroke-width="4" marker-end="url(#aP)"/>

<rect x="2505" y="1198" width="177" height="54" fill="#dcd0ea"/>
<text x="2594" y="1240" font-size="38" font-weight="bold" text-anchor="middle" style="fill:#7030a0">DREM</text>
<path d="M2552 1152 C2500 1165 2470 1200 2465 1241" fill="none" stroke="#111" stroke-width="3.5" marker-end="url(#aK)"/>
<path d="M2640 1152 C2690 1165 2725 1200 2730 1241" fill="none" stroke="#111" stroke-width="3.5" marker-end="url(#aK)"/>
<rect x="2317" y="1292" width="559" height="129" rx="6" fill="none" stroke="#444" stroke-width="3" stroke-dasharray="10 6"/>
<rect x="2339" y="1305" width="243" height="105" rx="4" fill="#e0e2f2"/>
<rect x="2612" y="1305" width="245" height="105" rx="4" fill="#e3ddf0"/>
<g font-size="30" text-anchor="middle"><text x="2460" y="1349">Shared Base</text><text x="2460" y="1386">Pathway</text><text x="2734" y="1349">Expert Refine</text><text x="2734" y="1386">Pathway</text></g>
<rect x="2527" y="1428" width="134" height="56" fill="#dcd0ea"/>
<text x="2594" y="1468" font-size="32" text-anchor="middle">Diff</text>
<path d="M2430 1444 C2480 1445 2515 1480 2522 1532" fill="none" stroke="#111" stroke-width="3.5" marker-end="url(#aK)"/>
<line x1="2595" y1="1484" x2="2595" y2="1538" stroke="#111" stroke-width="3.5" marker-end="url(#aK)"/>
<path d="M2761 1444 C2710 1445 2675 1480 2670 1532" fill="none" stroke="#111" stroke-width="3.5" marker-end="url(#aK)"/>
<rect x="2424" y="1542" width="341" height="103" rx="4" fill="url(#gEx)"/>
<text x="2595" y="1606" font-size="36" text-anchor="middle">Gate Modulation</text>
<line x1="2765" y1="1595" x2="2980" y2="1595" stroke="#548235" stroke-width="3.5" marker-end="url(#aGr)"/>
<line x1="2595" y1="1645" x2="2595" y2="1680" stroke="#111" stroke-width="3.5" marker-end="url(#aK)"/>
<rect x="2440" y="1683" width="309" height="102" rx="51" fill="url(#gEx)"/>
<text x="2595" y="1724" font-size="36" text-anchor="middle">Refined</text>
<text x="2595" y="1767" font-size="36" text-anchor="middle">Feature</text>
<rect x="2986" y="1555" width="390" height="79" rx="4" fill="#e2efda"/>
<text x="3181" y="1608" font-size="36" text-anchor="middle">Slow Meta-Policy φ</text>
<line x1="3190" y1="1634" x2="3190" y2="1685" stroke="#548235" stroke-width="3.5" marker-end="url(#aGr)"/>
<rect x="3042" y="1689" width="278" height="96" rx="6" fill="#a9d18e"/>
<text x="3181" y="1730" font-size="36" text-anchor="middle">Outer Loop</text>
<text x="3181" y="1773" font-size="36" text-anchor="middle">Update φ</text>

<!-- ================= MIDDLE TEXT ================= -->
<g font-size="33">
<text x="2205" y="1892" font-weight="bold" textLength="725" lengthAdjust="spacingAndGlyphs">Level 1: Representation Disentanglement</text>
<text x="1624" y="1939" textLength="1787" lengthAdjust="spacingAndGlyphs"><tspan font-style="italic">Build a genuinely diverse foundation by preventing homogeneity collapse.</tspan> We force experts into distinct</text>
<text x="1624" y="1989" textLength="1218" lengthAdjust="spacingAndGlyphs">functional niches rather than hoping diversity emerges as a byproduct.</text>
<text x="1624" y="2041" textLength="1384" lengthAdjust="spacingAndGlyphs"><tspan font-weight="bold">Feature Separation:</tspan> Minimizes cosine similarity between expert feature vectors.</text>
<text x="1624" y="2092" textLength="1678" lengthAdjust="spacingAndGlyphs"><tspan font-weight="bold">Decision Separation:</tspan> Maximizes the Jensen-Shannon Divergence (JSD) of predictive distributions.</text>
<text x="2289" y="2197" font-weight="bold" textLength="556" lengthAdjust="spacingAndGlyphs">Level 2: Policy Disentanglement</text>
<text x="1624" y="2246" textLength="1856" lengthAdjust="spacingAndGlyphs"><tspan font-style="italic">Shift from reactive adjustments to principled, diagnostic intervention.</tspan> We use a Dynamic Expert Refinement</text>
<text x="1624" y="2298" textLength="950" lengthAdjust="spacingAndGlyphs">Module guided by decomposed predictive uncertainty:</text>
<text x="1624" y="2349" textLength="1506" lengthAdjust="spacingAndGlyphs"><tspan font-weight="bold">Epistemic Uncertainty :</tspan> <tspan font-style="italic">Increase</tspan> refinement strength gate to allocate learning capacity.</text>
<text x="1624" y="2400" textLength="1587" lengthAdjust="spacingAndGlyphs"><tspan font-weight="bold">Aleatoric Uncertainty :</tspan> <tspan font-style="italic">Decrease</tspan> refinement gate to prevent overfitting to irreducible noise.</text>
<text x="2224" y="2503" font-weight="bold" textLength="685" lengthAdjust="spacingAndGlyphs">Level 3: Optimization Disentanglement</text>
<text x="1624" y="2555" font-style="italic" textLength="947" lengthAdjust="spacingAndGlyphs">Ensure stable convergence of the adaptive meta-policy.</text>
<text x="1624" y="2606" textLength="1868" lengthAdjust="spacingAndGlyphs"><tspan font-weight="bold">Two-Timescale Updates:</tspan> We explicitly decouple the fast primary learning from the slow meta-learning using</text>
<text x="1624" y="2657" textLength="1783" lengthAdjust="spacingAndGlyphs">different learning rates. Creates a protected optimization landscape, avoiding catastrophic interference.</text>
<text x="1624" y="2707" textLength="1377" lengthAdjust="spacingAndGlyphs"><tspan font-weight="bold">Fast Loop:</tspan> Updates main network features and DERM parameters at every step.</text>
<text x="1624" y="2758" textLength="1528" lengthAdjust="spacingAndGlyphs"><tspan font-weight="bold">Slow Loop:</tspan> Updates the meta-policy strategy controllers every epoch on a validation set.</text>
</g>

<!-- ================= TABLE 1 ================= -->
<rect x="3568" y="908" width="1478" height="650" fill="#eef5fb"/>
<rect x="3568" y="1574" width="1478" height="35" fill="#eef5fb"/>
<rect x="3568" y="1694" width="1478" height="363" fill="#fdf2f4"/>
<rect x="3568" y="2077" width="1478" height="39" fill="#fdf2f4"/>
<g stroke="#111">
<line x1="3568" y1="776" x2="5046" y2="776" stroke-width="3.5"/>
<line x1="3903" y1="836" x2="4304" y2="836" stroke-width="2"/>
<line x1="3568" y1="897" x2="5046" y2="897" stroke-width="2.5"/>
<line x1="3568" y1="1562" x2="5046" y2="1562" stroke-width="2.5"/>
<line x1="3568" y1="1621" x2="5046" y2="1621" stroke-width="3"/>
<line x1="3568" y1="1682" x2="5046" y2="1682" stroke-width="3"/>
<line x1="3568" y1="2065" x2="5046" y2="2065" stroke-width="2.5"/>
<line x1="3568" y1="2125" x2="5046" y2="2125" stroke-width="3.5"/>
</g>
<g class="sf" font-size="35">
<text class="sf" x="3593" y="838">Method</text>
<text class="sf" x="4104" y="817" text-anchor="middle">CIFAR-100-LT</text>
<text class="sf" y="876" text-anchor="middle"><tspan x="3953">IR=10</tspan><tspan x="4094">IR=50</tspan><tspan x="4245">IR=100</tspan></text>
<text class="sf" y="838" text-anchor="middle"><tspan x="4447">ImageNet-LT</tspan><tspan x="4711">iNaturalist 2018</tspan><tspan x="4949">Places-LT</tspan></text>

<text class="sf" x="3593" y="938">Softmax</text>
<text class="sf" y="938" text-anchor="middle"><tspan x="3953">59.1</tspan><tspan x="4094">45.6</tspan><tspan x="4245">41.4</tspan><tspan x="4447">48.0</tspan><tspan x="4711">64.7</tspan><tspan x="4949">31.4</tspan></text>
<text class="sf" x="3593" y="978">LDAM-DRW</text>
<text class="sf" y="978" text-anchor="middle"><tspan x="3953">58.7</tspan><tspan x="4094">46.6</tspan><tspan x="4245">42.0</tspan><tspan x="4447">48.8</tspan><tspan x="4711">64.6</tspan><tspan x="4949">36.8</tspan></text>
<text class="sf" x="3593" y="1019">Balanced Softmax</text>
<text class="sf" y="1019" text-anchor="middle"><tspan x="3953">61.0</tspan><tspan x="4094">50.9</tspan><tspan x="4245">46.1</tspan><tspan x="4447">52.3</tspan><tspan x="4711">70.6</tspan><tspan x="4949">39.4</tspan></text>
<text class="sf" x="3593" y="1059">LADE</text>
<text class="sf" y="1059" text-anchor="middle"><tspan x="3953">61.6</tspan><tspan x="4094">50.1</tspan><tspan x="4245">45.6</tspan><tspan x="4447">52.3</tspan><tspan x="4711">69.3</tspan><tspan x="4949">39.2</tspan></text>
<text class="sf" x="3593" y="1100">MiSLAS</text>
<text class="sf" y="1100" text-anchor="middle"><tspan x="3953">62.5</tspan><tspan x="4094">51.5</tspan><tspan x="4245">46.8</tspan><tspan x="4447">51.4</tspan><tspan x="4711">70.7</tspan><tspan x="4949">38.3</tspan></text>
<text class="sf" x="3593" y="1140">RIDE (3 experts)</text>
<text class="sf" y="1140" text-anchor="middle"><tspan x="3953">61.8</tspan><tspan x="4094">51.7</tspan><tspan x="4245">48.0</tspan><tspan x="4447">56.3</tspan><tspan x="4711">71.8</tspan><tspan x="4949">40.3</tspan></text>
<text class="sf" x="3593" y="1180">SADE</text>
<text class="sf" y="1180" text-anchor="middle"><tspan x="3953">63.6</tspan><tspan x="4094">53.8</tspan><tspan x="4245">48.8</tspan><tspan x="4447">58.8</tspan><tspan x="4711">72.7</tspan><tspan x="4949">40.9</tspan></text>
<text class="sf" x="3593" y="1221">BalPoE</text>
<text class="sf" y="1221" text-anchor="middle"><tspan x="3953">64.8</tspan><tspan x="4094">56.3</tspan><tspan x="4245">52.0</tspan><tspan x="4447">59.3</tspan><tspan x="4711">75.0</tspan><tspan x="4949">40.8</tspan></text>
<text class="sf" x="3593" y="1261">MDCS</text>
<text class="sf" y="1261" text-anchor="middle"><tspan x="3953">-</tspan><tspan x="4094">57.2</tspan><tspan x="4245">53.2</tspan><tspan x="4447">59.3</tspan><tspan x="4711">72.5</tspan><tspan x="4949" font-weight="bold">42.4</tspan></text>
<text class="sf" x="3593" y="1302">LSC</text>
<text class="sf" y="1302" text-anchor="middle"><tspan x="3953">65.0</tspan><tspan x="4094">56.5</tspan><tspan x="4245">51.8</tspan><tspan x="4447">60.2</tspan><tspan x="4711">73.9</tspan><tspan x="4949">41.3</tspan></text>
<text class="sf" x="3593" y="1342">BCL</text>
<text class="sf" y="1342" text-anchor="middle"><tspan x="3953">64.9</tspan><tspan x="4094">56.6</tspan><tspan x="4245">51.9</tspan><tspan x="4447">56.0</tspan><tspan x="4711">71.8</tspan><tspan x="4949">-</tspan></text>
<text class="sf" x="3593" y="1382">PRL</text>
<text class="sf" y="1382" text-anchor="middle"><tspan x="3953">65.6</tspan><tspan x="4094">57.3</tspan><tspan x="4245">52.8</tspan><tspan x="4447">60.8</tspan><tspan x="4711">75.1</tspan><tspan x="4949">41.6</tspan></text>
<text class="sf" x="3593" y="1423">ProCo</text>
<text class="sf" y="1423" text-anchor="middle"><tspan x="3953">65.5</tspan><tspan x="4094">57.1</tspan><tspan x="4245">52.8</tspan><tspan x="4447">57.3</tspan><tspan x="4711">73.5</tspan><tspan x="4949">-</tspan></text>
<text class="sf" x="3593" y="1463">ConCutmix</text>
<text class="sf" y="1463" text-anchor="middle"><tspan x="3953">64.5</tspan><tspan x="4094">57.4</tspan><tspan x="4245">53.2</tspan><tspan x="4447">58.5</tspan><tspan x="4711">72.1</tspan><tspan x="4949">-</tspan></text>
<text class="sf" x="3593" y="1504">LOS</text>
<text class="sf" y="1504" text-anchor="middle"><tspan x="3953" font-weight="bold">69.7</tspan><tspan x="4094">58.8</tspan><tspan x="4245">54.9</tspan><tspan x="4447">54.4</tspan><tspan x="4711">70.8</tspan><tspan x="4949">-</tspan></text>
<text class="sf" x="3593" y="1544">FeatRecon</text>
<text class="sf" y="1544" text-anchor="middle"><tspan x="3953">65.3</tspan><tspan x="4094">57.0</tspan><tspan x="4245">52.5</tspan><tspan x="4447">56.8</tspan><tspan x="4711">72.9</tspan><tspan x="4949">41.3</tspan></text>
<text class="sf" x="3593" y="1602">GUIDE</text>
<text class="sf" y="1602" text-anchor="middle"><tspan x="3953">69.2</tspan><tspan x="4094" font-weight="bold">60.3</tspan><tspan x="4245" font-weight="bold">56.4</tspan><tspan x="4447" font-weight="bold">62.5</tspan><tspan x="4711" font-weight="bold">76.1</tspan><tspan x="4949">42.2</tspan></text>

<text class="sf" x="4306" y="1660" text-anchor="middle" font-style="italic">Longer training</text>

<text class="sf" x="3593" y="1721">PaCo</text>
<text class="sf" y="1721" text-anchor="middle"><tspan x="3953">64.2</tspan><tspan x="4094">56.0</tspan><tspan x="4245">52.0</tspan><tspan x="4447">57.0</tspan><tspan x="4711">73.2</tspan><tspan x="4949">-</tspan></text>
<text class="sf" x="3593" y="1761">SADE</text>
<text class="sf" y="1761" text-anchor="middle"><tspan x="3953">65.3</tspan><tspan x="4094">57.3</tspan><tspan x="4245">52.2</tspan><tspan x="4447">-</tspan><tspan x="4711">74.0</tspan><tspan x="4949">39.5</tspan></text>
<text class="sf" x="3593" y="1802">NCL</text>
<text class="sf" y="1802" text-anchor="middle"><tspan x="3953">-</tspan><tspan x="4094">58.2</tspan><tspan x="4245">54.2</tspan><tspan x="4447">59.5</tspan><tspan x="4711">76.9</tspan><tspan x="4949">-</tspan></text>
<text class="sf" x="3593" y="1842">BCL</text>
<text class="sf" y="1842" text-anchor="middle"><tspan x="3953">66.9</tspan><tspan x="4094">58.6</tspan><tspan x="4245">53.9</tspan><tspan x="4447">59.0</tspan><tspan x="4711">74.8</tspan><tspan x="4949">-</tspan></text>
<text class="sf" x="3593" y="1882">BalPoE</text>
<text class="sf" y="1882" text-anchor="middle"><tspan x="3953">68.1</tspan><tspan x="4094">60.1</tspan><tspan x="4245">55.9</tspan><tspan x="4447">59.7</tspan><tspan x="4711">76.9</tspan><tspan x="4949">41.1</tspan></text>
<text class="sf" x="3593" y="1923">MDCS</text>
<text class="sf" y="1923" text-anchor="middle"><tspan x="3953">-</tspan><tspan x="4094">60.1</tspan><tspan x="4245">56.1</tspan><tspan x="4447">60.7</tspan><tspan x="4711">75.6</tspan><tspan x="4949">-</tspan></text>
<text class="sf" x="3593" y="1963">ProCo</text>
<text class="sf" y="1963" text-anchor="middle"><tspan x="3953">67.8</tspan><tspan x="4094">58.9</tspan><tspan x="4245">54.2</tspan><tspan x="4447">58.5</tspan><tspan x="4711">75.6</tspan><tspan x="4949">-</tspan></text>
<text class="sf" x="3593" y="2003">ConCutmix</text>
<text class="sf" y="2003" text-anchor="middle"><tspan x="3953">68.3</tspan><tspan x="4094">59.5</tspan><tspan x="4245">55.1</tspan><tspan x="4447">58.9</tspan><tspan x="4711">75.7</tspan><tspan x="4949">-</tspan></text>
<text class="sf" x="3593" y="2043">FeatRecon</text>
<text class="sf" y="2043" text-anchor="middle"><tspan x="3953">67.2</tspan><tspan x="4094">58.5</tspan><tspan x="4245">54.0</tspan><tspan x="4447">59.3</tspan><tspan x="4711">75.9</tspan><tspan x="4949">-</tspan></text>
<text class="sf" x="3593" y="2104">GUIDE</text>
<text class="sf" y="2104" text-anchor="middle" font-weight="bold"><tspan x="3953">70.2</tspan><tspan x="4094">62.3</tspan><tspan x="4245">57.7</tspan><tspan x="4447">63.4</tspan><tspan x="4711">77.8</tspan><tspan x="4949">43.1</tspan></text>
</g>
<g stroke="#111" stroke-width="2.5">
<line x1="4416" y1="1390" x2="4478" y2="1390"/><line x1="4680" y1="1390" x2="4742" y2="1390"/>
<line x1="4063" y1="1512" x2="4125" y2="1512"/><line x1="4214" y1="1512" x2="4276" y2="1512"/>
<line x1="3922" y1="1610" x2="3984" y2="1610"/><line x1="4918" y1="1610" x2="4980" y2="1610"/>
<line x1="3922" y1="1890" x2="3984" y2="1890"/><line x1="4063" y1="1890" x2="4125" y2="1890"/><line x1="4680" y1="1890" x2="4742" y2="1890"/><line x1="4918" y1="1890" x2="4980" y2="1890"/>
<line x1="4063" y1="1931" x2="4125" y2="1931"/><line x1="4214" y1="1931" x2="4276" y2="1931"/><line x1="4416" y1="1931" x2="4478" y2="1931"/>
</g>
<g stroke="#111" stroke-width="2.5" stroke-dasharray="8 6">
<line x1="3922" y1="1552" x2="3984" y2="1552"/><line x1="4063" y1="1552" x2="4125" y2="1552"/><line x1="4918" y1="1552" x2="4980" y2="1552"/>
<line x1="4918" y1="1769" x2="4980" y2="1769"/>
<line x1="3922" y1="1850" x2="3984" y2="1850"/><line x1="4063" y1="1850" x2="4125" y2="1850"/><line x1="4412" y1="1850" x2="4482" y2="1850"/><line x1="4676" y1="1850" x2="4746" y2="1850"/>
<line x1="3922" y1="1971" x2="3984" y2="1971"/><line x1="4063" y1="1971" x2="4125" y2="1971"/><line x1="4412" y1="1971" x2="4482" y2="1971"/><line x1="4676" y1="1971" x2="4746" y2="1971"/>
<line x1="3922" y1="2011" x2="3984" y2="2011"/><line x1="4063" y1="2011" x2="4125" y2="2011"/><line x1="4412" y1="2011" x2="4482" y2="2011"/><line x1="4676" y1="2011" x2="4746" y2="2011"/>
<line x1="3922" y1="2051" x2="3984" y2="2051"/><line x1="4063" y1="2051" x2="4125" y2="2051"/><line x1="4412" y1="2051" x2="4482" y2="2051"/><line x1="4676" y1="2051" x2="4746" y2="2051"/>
</g>

<!-- ================= TABLE 2 ================= -->
<rect x="3943" y="2308" width="1100" height="36" fill="url(#gT2)"/>
<rect x="3943" y="2363" width="1100" height="334" fill="url(#gT2)"/>
<rect x="3943" y="2714" width="1100" height="74" fill="url(#gT2)"/>
<g stroke="#111">
<line x1="3572" y1="2243" x2="5043" y2="2243" stroke-width="3.5"/>
<line x1="3961" y1="2298" x2="4425" y2="2298" stroke-width="2"/>
<line x1="4460" y1="2298" x2="4525" y2="2298" stroke-width="2"/>
<line x1="4560" y1="2298" x2="5026" y2="2298" stroke-width="2"/>
<line x1="3572" y1="2352" x2="5043" y2="2352" stroke-width="2.5"/>
<line x1="3572" y1="2704" x2="5043" y2="2704" stroke-width="2.5"/>
<line x1="3572" y1="2796" x2="5043" y2="2796" stroke-width="3.5"/>
</g>
<g class="sf" font-size="33">
<text class="sf" x="3593" y="2300">Method</text>
<text class="sf" x="3889" y="2300" text-anchor="middle">Prior</text>
<text class="sf" y="2281" text-anchor="middle"><tspan x="4193">Forward-LT</tspan><tspan x="4492">Uni.</tspan><tspan x="4792">Backward-LT</tspan></text>
<text class="sf" y="2333" text-anchor="middle"><tspan x="3993">50</tspan><tspan x="4092">25</tspan><tspan x="4195">10</tspan><tspan x="4293">5</tspan><tspan x="4393">2</tspan><tspan x="4492">1</tspan><tspan x="4593">2</tspan><tspan x="4692">5</tspan><tspan x="4792">10</tspan><tspan x="4892">25</tspan><tspan x="4993">50</tspan></text>

<text class="sf" x="3593" y="2386">Softmax</text>
<text class="sf" y="2386" text-anchor="middle"><tspan x="3993">63.3</tspan><tspan x="4092">62.0</tspan><tspan x="4195">56.2</tspan><tspan x="4293">52.5</tspan><tspan x="4393">46.4</tspan><tspan x="4492">41.4</tspan><tspan x="4593">36.5</tspan><tspan x="4692">30.5</tspan><tspan x="4792">25.8</tspan><tspan x="4892">21.7</tspan><tspan x="4993">17.5</tspan></text>
<text class="sf" x="3593" y="2423">MiSLAS</text>
<text class="sf" y="2423" text-anchor="middle"><tspan x="3993">58.8</tspan><tspan x="4092">57.2</tspan><tspan x="4195">55.2</tspan><tspan x="4293">53.0</tspan><tspan x="4393">49.6</tspan><tspan x="4492">46.8</tspan><tspan x="4593">43.6</tspan><tspan x="4692">40.1</tspan><tspan x="4792">37.7</tspan><tspan x="4892">33.9</tspan><tspan x="4993">32.1</tspan></text>
<text class="sf" x="3593" y="2460">LADE</text>
<text class="sf" y="2460" text-anchor="middle"><tspan x="3993">56.0</tspan><tspan x="4092">55.5</tspan><tspan x="4195">52.8</tspan><tspan x="4293">51.0</tspan><tspan x="4393">48.0</tspan><tspan x="4492">45.6</tspan><tspan x="4593">43.2</tspan><tspan x="4692">40.0</tspan><tspan x="4792">38.3</tspan><tspan x="4892">35.5</tspan><tspan x="4993">34.0</tspan></text>
<text class="sf" x="3593" y="2497">LADE</text>
<text class="sf" y="2497" text-anchor="middle"><tspan x="3993">62.6</tspan><tspan x="4092">60.2</tspan><tspan x="4195">55.6</tspan><tspan x="4293">52.7</tspan><tspan x="4393">48.2</tspan><tspan x="4492">45.6</tspan><tspan x="4593">43.8</tspan><tspan x="4692">41.1</tspan><tspan x="4792">41.5</tspan><tspan x="4892">40.7</tspan><tspan x="4993">41.6</tspan></text>
<text class="sf" x="3593" y="2534">RIDE</text>
<text class="sf" y="2534" text-anchor="middle"><tspan x="3993">63.0</tspan><tspan x="4092">59.9</tspan><tspan x="4195">57.0</tspan><tspan x="4293">53.6</tspan><tspan x="4393">49.4</tspan><tspan x="4492">48.0</tspan><tspan x="4593">42.5</tspan><tspan x="4692">38.1</tspan><tspan x="4792">35.4</tspan><tspan x="4892">31.6</tspan><tspan x="4993">29.2</tspan></text>
<text class="sf" x="3593" y="2572">SADE</text>
<text class="sf" y="2572" text-anchor="middle"><tspan x="3993">65.2</tspan><tspan x="4092">62.5</tspan><tspan x="4195">58.8</tspan><tspan x="4293">55.4</tspan><tspan x="4393">51.2</tspan><tspan x="4492">48.8</tspan><tspan x="4593">43.0</tspan><tspan x="4692">43.9</tspan><tspan x="4792">42.4</tspan><tspan x="4892">42.2</tspan><tspan x="4993">42.0</tspan></text>
<text class="sf" x="3593" y="2609">BalPoE</text>
<text class="sf" y="2609" text-anchor="middle"><tspan x="3993">69.0</tspan><tspan x="4092">65.2</tspan><tspan x="4195">61.2</tspan><tspan x="4293">59.0</tspan><tspan x="4393">54.2</tspan><tspan x="4492">51.7</tspan><tspan x="4593">45.7</tspan><tspan x="4692">46.6</tspan><tspan x="4792">45.2</tspan><tspan x="4892">45.2</tspan><tspan x="4993">45.8</tspan></text>
<text class="sf" x="3593" y="2646">LSC</text>
<text class="sf" y="2646" text-anchor="middle"><tspan x="3993">67.8</tspan><tspan x="4092">64.2</tspan><tspan x="4195">60.2</tspan><tspan x="4293">58.1</tspan><tspan x="4393">53.2</tspan><tspan x="4492">51.6</tspan><tspan x="4593">44.7</tspan><tspan x="4692">45.7</tspan><tspan x="4792">44.2</tspan><tspan x="4892">44.7</tspan><tspan x="4993">48.0</tspan></text>
<text class="sf" x="3593" y="2683">PRL</text>
<text class="sf" y="2683" text-anchor="middle"><tspan x="3993">69.5</tspan><tspan x="4092">65.7</tspan><tspan x="4195">61.7</tspan><tspan x="4293">59.5</tspan><tspan x="4393">54.7</tspan><tspan x="4492">52.2</tspan><tspan x="4593">46.2</tspan><tspan x="4692">47.1</tspan><tspan x="4792">45.7</tspan><tspan x="4892" font-weight="bold">45.7</tspan><tspan x="4993" font-weight="bold">48.5</tspan></text>
<text class="sf" x="3593" y="2738">GUIDE</text>
<text class="sf" y="2738" text-anchor="middle"><tspan x="3993">68.5</tspan><tspan x="4092" font-weight="bold">66.7</tspan><tspan x="4195" font-weight="bold">64.4</tspan><tspan x="4293" font-weight="bold">62.6</tspan><tspan x="4393" font-weight="bold">59.2</tspan><tspan x="4492" font-weight="bold">56.4</tspan><tspan x="4593" font-weight="bold">53.3</tspan><tspan x="4692" font-weight="bold">49.7</tspan><tspan x="4792" font-weight="bold">46.7</tspan><tspan x="4892">43.2</tspan><tspan x="4993">40.7</tspan></text>
<text class="sf" x="3593" y="2775">GUIDE (longer)</text>
<text class="sf" y="2775" text-anchor="middle"><tspan x="3993" font-weight="bold">71.9</tspan><tspan x="4092" font-weight="bold">70.0</tspan><tspan x="4195" font-weight="bold">67.3</tspan><tspan x="4293" font-weight="bold">64.7</tspan><tspan x="4393" font-weight="bold">60.8</tspan><tspan x="4492" font-weight="bold">57.7</tspan><tspan x="4593" font-weight="bold">54.4</tspan><tspan x="4692" font-weight="bold">50.6</tspan><tspan x="4792" font-weight="bold">47.7</tspan><tspan x="4892">43.6</tspan><tspan x="4993">41.5</tspan></text>
</g>
<g class="mk" font-size="30" text-anchor="middle">
<text class="mk" x="3888" y="2386">✗</text><text class="mk" x="3888" y="2423">✗</text><text class="mk" x="3888" y="2460">✗</text><text class="mk" x="3888" y="2497">✓</text><text class="mk" x="3888" y="2534">✗</text><text class="mk" x="3888" y="2572">✗</text><text class="mk" x="3888" y="2609">✗</text><text class="mk" x="3888" y="2646">✗</text><text class="mk" x="3888" y="2683">✗</text><text class="mk" x="3888" y="2738">✗</text><text class="mk" x="3888" y="2775">✗</text>
</g>
</svg>
</body></html>
